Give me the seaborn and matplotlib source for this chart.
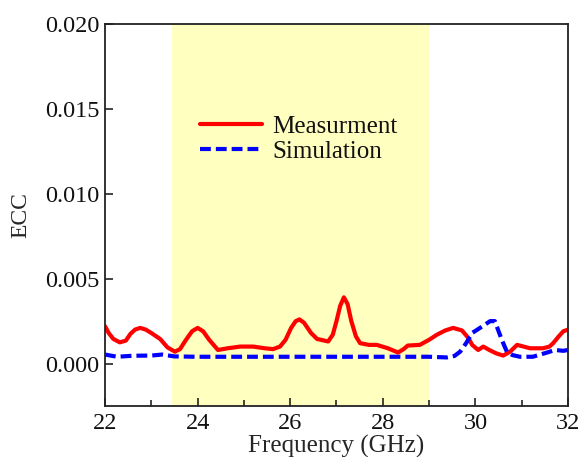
import matplotlib
matplotlib.use("Agg")
import matplotlib.pyplot as plt
from matplotlib.ticker import MultipleLocator, FormatStrFormatter
import seaborn as sns
import pandas as pd

# Measured ECC (frequency in GHz)
meas_freq = [22.0, 22.08, 22.18, 22.32, 22.45, 22.55, 22.65, 22.76, 22.88, 23.0, 23.19, 23.35,
             23.51, 23.62, 23.75, 23.88, 24.0, 24.12, 24.25, 24.44, 24.65, 24.92, 25.2, 25.45,
             25.63, 25.78, 25.9, 26.02, 26.12, 26.2, 26.3, 26.45, 26.58, 26.82, 26.92, 27.0,
             27.08, 27.16, 27.24, 27.32, 27.42, 27.51, 27.7, 27.87, 28.11, 28.33, 28.45, 28.54,
             28.8, 29.0, 29.17, 29.35, 29.52, 29.71, 29.85, 29.93, 30.06, 30.17, 30.3, 30.45,
             30.6, 30.75, 30.9, 31.18, 31.46, 31.6, 31.68, 31.8, 31.9, 32.0]
meas_ecc = [0.00220, 0.00180, 0.00145, 0.00125, 0.00135, 0.00175, 0.00200, 0.00210, 0.00200,
            0.00180, 0.00145, 0.00095, 0.00070, 0.00085, 0.00140, 0.00190, 0.00210, 0.00190,
            0.00140, 0.00080, 0.00090, 0.00100, 0.00100, 0.00090, 0.00085, 0.00100, 0.00140,
            0.00210, 0.00250, 0.00260, 0.00240, 0.00180, 0.00145, 0.00130, 0.00170, 0.00250,
            0.00340, 0.00390, 0.00350, 0.00250, 0.00160, 0.00120, 0.00110, 0.00110, 0.00090,
            0.00065, 0.00085, 0.00106, 0.00110, 0.00140, 0.00170, 0.00195, 0.00210, 0.00195,
            0.00150, 0.00110, 0.00080, 0.00100, 0.00080, 0.00060, 0.00047, 0.00070, 0.00110,
            0.00090, 0.00090, 0.00100, 0.00120, 0.00160, 0.00190, 0.00200]

# Simulated ECC
sim_freq = [22.0, 22.26, 22.6, 23.0, 23.23, 23.5, 24.0, 25.0, 26.0, 27.0, 28.0, 29.0,
            29.38, 29.55, 29.67, 29.8, 29.93, 30.1, 30.32, 30.42, 30.57, 30.68, 30.8, 30.96,
            31.24, 31.55, 31.72, 31.9, 32.0]
sim_ecc = [0.00053, 0.00040, 0.00046, 0.00047, 0.00053, 0.00042, 0.00040, 0.00040, 0.00040,
           0.00040, 0.00040, 0.00040, 0.00036, 0.00045, 0.00070, 0.00120, 0.00180, 0.00210,
           0.00250, 0.00250, 0.00140, 0.00070, 0.00050, 0.00040, 0.00040, 0.00065, 0.00080,
           0.00075, 0.00080]

band = (23.45, 29.0)
labels = ["Measurment", "Simulation"]

df = pd.concat([
    pd.DataFrame({"Frequency": meas_freq, "ECC": meas_ecc, "Series": labels[0]}),
    pd.DataFrame({"Frequency": sim_freq, "ECC": sim_ecc, "Series": labels[1]}),
])

sns.set_style("ticks")
plt.rcParams["font.family"] = ["Liberation Serif", "DejaVu Serif"]

fig = plt.figure(figsize=(5.81, 4.57), dpi=100)
ax = fig.add_axes([0.1807, 0.1116, 0.7969, 0.8359])

ax.axvspan(*band, color="#ffffbf", zorder=0, lw=0)

sns.lineplot(data=df, x="Frequency", y="ECC", hue="Series", style="Series",
             palette={labels[0]: "#ff0000", labels[1]: "#0000ff"},
             dashes={labels[0]: "", labels[1]: (2.6, 1.2)},
             linewidth=3.0, sort=False, estimator=None, ax=ax, legend=True)
for ln in ax.get_lines():
    ln.set_solid_joinstyle("round")
    ln.set_solid_capstyle("round")

ax.set_xlim(22, 32)
ax.set_ylim(-0.0025, 0.020)
ax.xaxis.set_major_locator(MultipleLocator(2))
ax.xaxis.set_minor_locator(MultipleLocator(1))
ax.yaxis.set_major_locator(MultipleLocator(0.005))
ax.yaxis.set_major_formatter(FormatStrFormatter("%.3f"))
ax.tick_params(axis="both", which="both", direction="in", labelsize=17.5,
               colors="#111111", width=1.1)
ax.tick_params(axis="both", which="major", length=6)
ax.tick_params(axis="x", which="minor", length=4)
ax.tick_params(axis="x", pad=5)
ax.tick_params(axis="y", pad=4)

for s in ax.spines.values():
    s.set_visible(True)
    s.set_color("#222222")
    s.set_linewidth(1.3)

ax.set_xlabel("Frequency (GHz)", fontsize=18, labelpad=1)
ax.set_ylabel("ECC", fontsize=17, labelpad=10)

leg = ax.legend(loc="upper left", bbox_to_anchor=(0.205, 0.76), frameon=False,
                fontsize=18, handlelength=2.5, handletextpad=0.4, labelspacing=0.1,
                borderaxespad=0, borderpad=0)
for t in leg.get_texts():
    t.set_color("#111111")

fig.savefig("out.png", dpi=100)
